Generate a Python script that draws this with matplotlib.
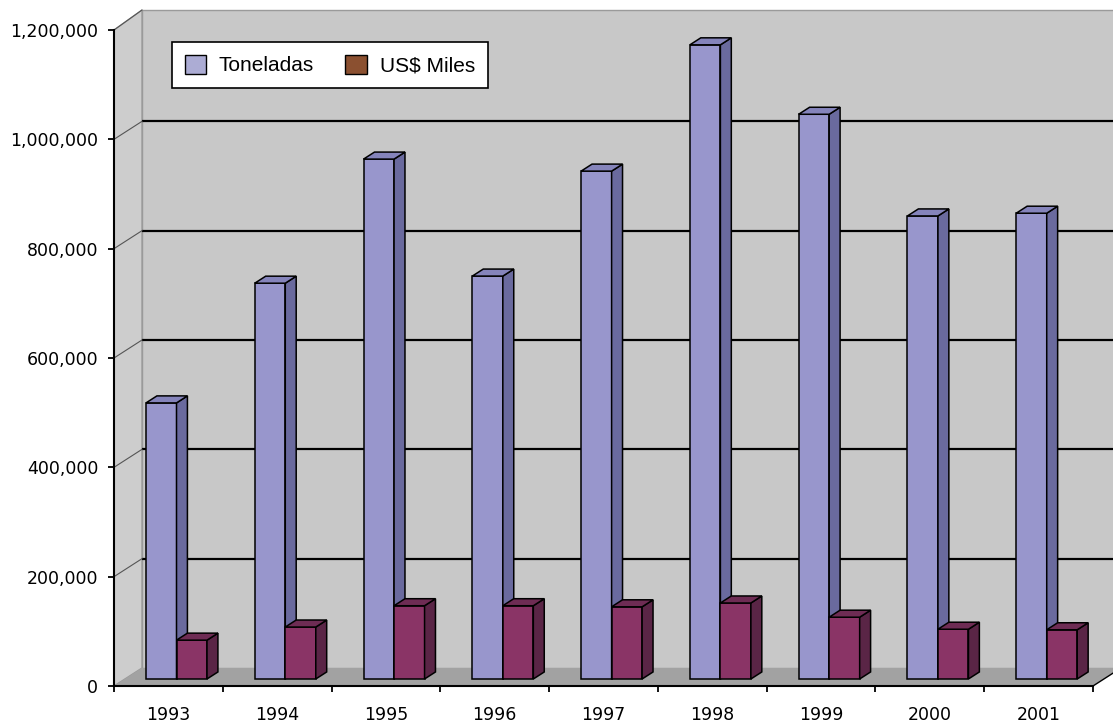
import matplotlib
matplotlib.use("Agg")
import matplotlib.pyplot as plt
from matplotlib.patches import Polygon, Patch
from matplotlib.ticker import FuncFormatter, FixedLocator

# Datos anuales
years = ["1993", "1994", "1995", "1996", "1997", "1998", "1999", "2000", "2001"]
toneladas = [505000, 724000, 951000, 737000, 929000, 1160000, 1033000, 847000, 852000]
us_miles = [71000, 95000, 134000, 134000, 132000, 139000, 113000, 91000, 90000]
series_names = ["Toneladas", "US$ Miles"]
y_ticks = [0, 200000, 400000, 600000, 800000, 1000000, 1200000]

W, H, DPI = 1113, 726, 100
fig = plt.figure(figsize=(W / DPI, H / DPI), dpi=DPI)
fig.patch.set_facecolor("white")

# plot area in pixels: x axis 114..1093, y axis 686 (0) .. 30 (1.2M)
ax = fig.add_axes([114 / W, (H - 686) / H, (1093 - 114) / W, (686 - 30) / H])
ax.set_xlim(0, len(years))
ax.set_ylim(0, 1200000)
ax.patch.set_visible(False)

ncat = len(years)
ymax = y_ticks[-1]
# depth of the oblique projection, expressed in data units
px_x = (1093 - 114) / ncat
px_y = (686 - 30) / ymax
DX = 28 / px_x
DY = 18 / px_y

wall_c = "#c8c8c8"
side_c = "#cdcdcd"
floor_c = "#a2a2a2"

# back wall
ax.add_patch(Polygon([(DX, DY), (ncat + DX, DY), (ncat + DX, ymax + DY + 2 / px_y),
                      (DX, ymax + DY + 2 / px_y)], closed=True, facecolor=wall_c,
                     edgecolor="#9a9a9a", lw=1.0, clip_on=False, zorder=0))
# side wall
ax.add_patch(Polygon([(0, 0), (DX, DY), (DX, ymax + DY + 2 / px_y), (0, ymax)], closed=True,
                     facecolor=side_c, edgecolor="#9a9a9a", lw=1.0, clip_on=False, zorder=0.1))
# floor
ax.add_patch(Polygon([(0, 0), (ncat, 0), (ncat + DX, DY), (DX, DY)], closed=True,
                     facecolor=floor_c, edgecolor="none", clip_on=False, zorder=0.2))
ax.plot([ncat, ncat + DX], [0, DY], color="black", lw=1.0, clip_on=False, zorder=0.3)

# gridlines on back and side walls
for v in y_ticks[1:-1]:
    ax.plot([DX, ncat + DX], [v + DY, v + DY], color="black", lw=1.6,
            clip_on=False, zorder=0.5, solid_capstyle="butt")
    ax.plot([0, DX], [v, v + DY], color="#555555", lw=0.8, clip_on=False, zorder=0.5)
ax.plot([0, DX], [ymax, ymax + DY + 2 / px_y], color="#555555", lw=0.8, clip_on=False, zorder=0.5)

# bars (front face offset into the depth, then extruded)
t0 = 0.39
fx, fy = t0 * DX, t0 * DY
dd_x, dd_y = t0 * DX, t0 * DY
bar_w = 30.5 / px_x
lead = 32 / px_x

faces = [
    ("#9896cc", "#6a6a9e", "#8584bb"),
    ("#8a3466", "#5a2546", "#6e2c54"),
]

def draw_bar(x0, value, cols, z):
    front, side, top = cols
    x1 = x0 + bar_w
    yb = fy
    yt = value + fy
    kw = dict(closed=True, edgecolor="black", lw=1.1, clip_on=False, zorder=z, joinstyle="miter")
    ax.add_patch(Polygon([(x0, yb), (x1, yb), (x1, yt), (x0, yt)], facecolor=front, **kw))
    ax.add_patch(Polygon([(x1, yb), (x1 + dd_x, yb + dd_y), (x1 + dd_x, yt + dd_y), (x1, yt)],
                         facecolor=side, **kw))
    ax.add_patch(Polygon([(x0, yt), (x1, yt), (x1 + dd_x, yt + dd_y), (x0 + dd_x, yt + dd_y)],
                         facecolor=top, **kw))

for i in range(ncat):
    base = i + lead
    draw_bar(base, toneladas[i], faces[0], 2 + i * 0.01)
    draw_bar(base + bar_w, us_miles[i], faces[1], 2.005 + i * 0.01)

# axes lines and ticks
for s in ["top", "right"]:
    ax.spines[s].set_visible(False)
for s in ["left", "bottom"]:
    ax.spines[s].set_color("black")
    ax.spines[s].set_linewidth(1.5)
    ax.spines[s].set_zorder(5)

ax.yaxis.set_major_locator(FixedLocator(y_ticks))
ax.yaxis.set_major_formatter(FuncFormatter(lambda v, p: f"{int(v):,}"))
ax.xaxis.set_major_locator(FixedLocator(list(range(ncat + 1))))
ax.xaxis.set_major_formatter(FuncFormatter(lambda v, p: ""))
ax.xaxis.set_minor_locator(FixedLocator([i + 0.5 for i in range(ncat)]))
ax.set_xticklabels(years, minor=True)

ax.tick_params(axis="y", which="major", direction="out", length=4.3, width=1.3,
               pad=7.0, labelsize=12.5, colors="black")
ax.tick_params(axis="x", which="major", direction="out", length=4.3, width=1.3, colors="black")
ax.tick_params(axis="x", which="minor", length=0, pad=14.5, labelsize=12.5, colors="black")

# legend
handles = [Patch(facecolor="#acacd4", edgecolor="black", lw=1.0, label=series_names[0]),
           Patch(facecolor="#8b5030", edgecolor="black", lw=1.0, label=series_names[1])]
leg = fig.legend(handles=handles, loc="upper left", ncol=2,
                 bbox_to_anchor=(172 / W, 1 - 42 / H), frameon=True, fancybox=False,
                 prop={"family": "Liberation Sans", "size": 15},
                 handlelength=1.05, handleheight=1.05, handletextpad=0.6,
                 columnspacing=1.5, borderpad=0.6, borderaxespad=0, framealpha=1)
leg.get_frame().set_edgecolor("black")
leg.get_frame().set_facecolor("white")
leg.get_frame().set_linewidth(1.2)
leg.set_zorder(10)

fig.savefig("out.png", dpi=DPI)
